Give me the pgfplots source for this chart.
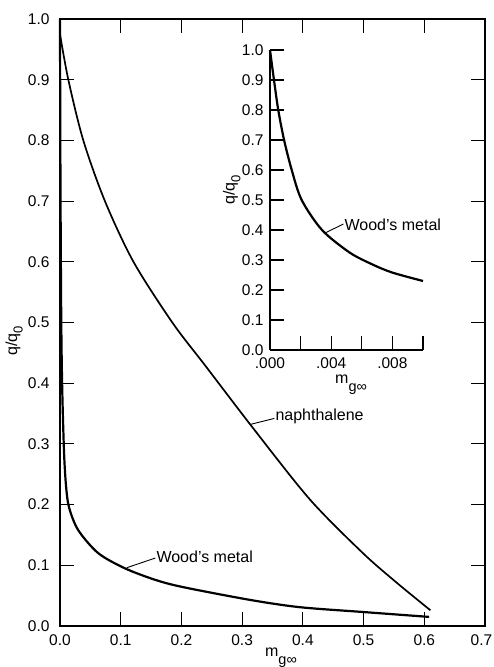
\documentclass[border=0pt]{standalone}
\usepackage{fontspec}
\setmainfont{Liberation Sans}
\usepackage{pgfplots}
\pgfplotsset{compat=1.18}
\begin{document}
\begin{tikzpicture}
\useasboundingbox (-60pt,-41pt) rectangle (433pt,626pt);
\begin{axis}[
  at={(0pt,0pt)}, anchor=south west,
  scale only axis, width=425pt, height=607pt,
  xmin=0, xmax=0.7, ymin=0, ymax=1,
  xtick={0,0.1,0.2,0.3,0.4,0.5,0.6,0.7},
  xticklabels={0.0,0.1,0.2,0.3,0.4,0.5,0.6,\hspace*{-7pt}0.7},
  ytick={0,0.1,0.2,0.3,0.4,0.5,0.6,0.7,0.8,0.9,1.0},
  yticklabels={0.0,0.1,0.2,0.3,0.4,0.5,0.6,0.7,0.8,0.9,1.0},
  tick align=inside, major tick length=14pt,
  axis line style={line width=1.5pt},
  every tick/.style={line width=1.1pt, black},
  ticklabel style={font=\fontsize{15.5}{18}\selectfont},
  xticklabel style={yshift=-5pt},
  yticklabel style={xshift=-7pt},
  xlabel={m\raisebox{-0.5em}{\fontsize{14.5}{16}\selectfont g∞}},
  ylabel={q/q\raisebox{-0.35em}{\fontsize{13}{15}\selectfont 0}},
  label style={font=\fontsize{16}{18}\selectfont},
  xlabel style={at={(axis description cs:0.52,-0.053)}, anchor=center},
  ylabel style={at={(axis description cs:-0.108,0.47)}, anchor=center},
  clip=false,
]
\addplot[black, line width=1.7pt, smooth] coordinates {
(0,0.975) (0.0137,0.9) (0.0384,0.8) (0.074,0.7) (0.121,0.6) (0.185,0.5)
(0.24,0.428) (0.318,0.326) (0.412,0.208) (0.499,0.12) (0.555,0.071) (0.61,0.026)
};
\addplot[black, line width=2.2pt, smooth] coordinates {
(0,1.0) (0.0003,0.88) (0.0009,0.70) (0.0021,0.5) (0.0037,0.389) (0.0067,0.285)
(0.010,0.23) (0.015,0.195) (0.03,0.158) (0.063,0.12) (0.107,0.095) (0.157,0.076)
(0.203,0.064) (0.313,0.043) (0.395,0.031) (0.50,0.023) (0.608,0.015)
};
\draw[line width=0.9pt] (axis cs:0.110,0.096) -- (axis cs:0.157,0.112);
\node[anchor=west, inner sep=1pt, font=\fontsize{16}{18}\selectfont] at (axis cs:0.157,0.114) {Wood’s metal};
\draw[line width=0.9pt] (axis cs:0.313,0.332) -- (axis cs:0.353,0.342);
\node[anchor=west, inner sep=1pt, font=\fontsize{16}{18}\selectfont] at (axis cs:0.353,0.345) {naphthalene};
\end{axis}
\begin{axis}[
  at={(210pt,276pt)}, anchor=south west,
  scale only axis, width=153pt, height=300pt,
  xmin=0, xmax=0.010, ymin=0, ymax=1,
  axis x line=bottom, axis y line=left,
  axis line style={-, line width=1.5pt},
  scaled x ticks=false,
  xtick={0,0.002,0.004,0.006,0.008,0.010},
  xticklabels={.000,,.004,,.008,},
  ytick={0,0.1,0.2,0.3,0.4,0.5,0.6,0.7,0.8,0.9,1.0},
  yticklabels={0.0,0.1,0.2,0.3,0.4,0.5,0.6,0.7,0.8,0.9,1.0},
  tick align=inside, major tick length=14pt,
  every tick/.style={line width=1.1pt, black},
  ticklabel style={font=\fontsize{15.5}{18}\selectfont},
  xticklabel style={yshift=-4pt},
  yticklabel style={xshift=-3pt},
  xlabel={m\raisebox{-0.5em}{\fontsize{14.5}{16}\selectfont g∞}},
  ylabel={q/q\raisebox{-0.35em}{\fontsize{13}{15}\selectfont 0}},
  label style={font=\fontsize{16}{18}\selectfont},
  xlabel style={at={(axis description cs:0.53,-0.117)}, anchor=center},
  ylabel style={at={(axis description cs:-0.25,0.533)}, anchor=center},
  clip=false,
]
\addplot[black, line width=2.2pt, smooth] coordinates {
(0,1.0) (0.00026,0.9) (0.00054,0.8) (0.00092,0.7) (0.00142,0.6) (0.00207,0.5)
(0.0034,0.4) (0.0052,0.325) (0.0067,0.285) (0.0080,0.258) (0.010,0.23)
};
\draw[line width=0.9pt] (axis cs:0.0036,0.39) -- (axis cs:0.0048,0.42);
\node[anchor=west, inner sep=1pt, font=\fontsize{16}{18}\selectfont] at (axis cs:0.0048,0.418) {Wood’s metal};
\end{axis}
\end{tikzpicture}
\end{document}
